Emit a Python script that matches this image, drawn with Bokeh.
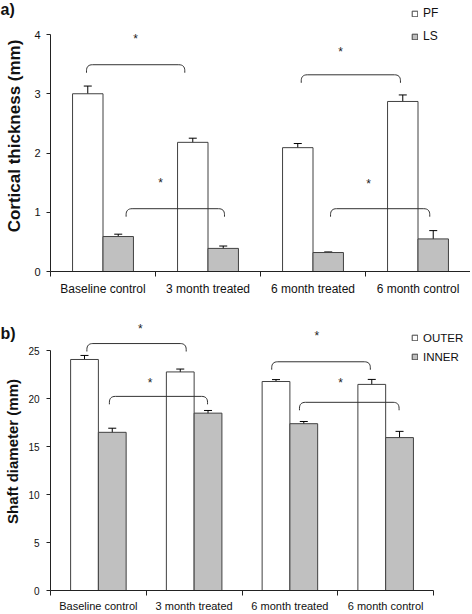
from bokeh.plotting import figure
from bokeh.models import (Range1d, FixedTicker, Legend, LegendItem,
                          ColumnDataSource, Whisker, TeeHead)
from bokeh.layouts import column
from bokeh.embed import file_html
from bokeh.resources import INLINE
from bokeh.core.properties import value

# ---------------- data ----------------
groups = ["Baseline control", "3 month treated", "6 month treated", "6 month control"]

# panel a: cortical thickness (mm)
pf_mean = [3.00, 2.18, 2.09, 2.87]
pf_err = [0.13, 0.07, 0.07, 0.11]
ls_mean = [0.59, 0.39, 0.32, 0.55]
ls_err = [0.04, 0.04, 0.01, 0.14]

# panel b: shaft diameter (mm)
outer_mean = [24.1, 22.8, 21.8, 21.5]
outer_err = [0.42, 0.30, 0.20, 0.52]
inner_mean = [16.5, 18.5, 17.4, 15.95]
inner_err = [0.43, 0.28, 0.23, 0.65]

yticks_a = [0, 1, 2, 3, 4]
yticks_b = [0, 5, 10, 15, 20, 25]

# significance brackets (x0, x1 in group units, top level in data units)
brackets_a = [(0.343, 1.279, 3.49), (0.72, 1.657, 1.06),
              (2.388, 3.333, 3.32), (2.667, 3.612, 1.06)]
stars_a = [(0.81, 3.93), (1.048, 1.49), (2.762, 3.70), (3.03, 1.48)]
brackets_b = [(0.38, 1.417, 25.76), (0.615, 1.64, 20.25),
              (2.31, 3.34, 23.86), (2.60, 3.64, 19.63)]
stars_b = [(0.9375, 27.3), (1.04, 21.6), (2.78, 26.5), (3.03, 21.6)]

FONT = "Liberation Sans"
WHITE_FILL = "white"
GRAY_FILL = "#c0c0c0"
BAR_LINE = "#404040"
BAR_W = 0.29
FIG_W = 470
B_LEFT = 50


def bracket_path(x0, x1, ytop, kx, ky, hook_px=8, r_px=6):
    rx, ry = r_px / kx, r_px / ky
    yh = ytop - hook_px / ky
    xs, ys = [x0], [yh]
    n = 8
    for (p0, c, p1) in (((x0, ytop - ry), (x0, ytop), (x0 + rx, ytop)),
                        ((x1 - rx, ytop), (x1, ytop), (x1, ytop - ry))):
        for i in range(n + 1):
            t = i / n
            xs.append((1 - t) ** 2 * p0[0] + 2 * (1 - t) * t * c[0] + t ** 2 * p1[0])
            ys.append((1 - t) ** 2 * p0[1] + 2 * (1 - t) * t * c[1] + t ** 2 * p1[1])
    xs.append(x1); ys.append(yh)
    return xs, ys


def make_panel(means1, errs1, means2, errs2, names, ylabel, yticks, ybound,
               y_end, x_end, height, border_top, border_bottom, brackets, stars,
               xtick_fs, ytick_fs, title_fs, legend_fs, panel_label, legend_xy,
               label_h, leg_spacing, title_standoff_panel, xstandoff, ystandoff,
               title_standoff):
    p = figure(width=FIG_W, height=height, output_backend="svg",
               toolbar_location=None, x_range=Range1d(0, x_end),
               y_range=Range1d(0, y_end), min_border_left=B_LEFT,
               min_border_right=0, min_border_top=border_top,
               min_border_bottom=border_bottom)
    p.xgrid.visible = False
    p.ygrid.visible = False
    p.outline_line_color = None
    p.background_fill_color = "white"

    # panel label as the plot title, pulled into the corner
    p.title.text = panel_label
    p.title.align = "left"
    p.title.offset = -B_LEFT
    p.title.standoff = title_standoff_panel
    p.title.vertical_align = "bottom"
    p.title.text_font = FONT
    p.title.text_font_size = "16px"
    p.title.text_font_style = "bold"
    p.title.text_color = "#111111"

    centers = [i + 0.5 for i in range(len(groups))]
    x1 = [c - BAR_W / 2 for c in centers]
    x2 = [c + BAR_W / 2 for c in centers]
    s1 = ColumnDataSource(dict(x=x1, top=means1,
                               lo=[m - e for m, e in zip(means1, errs1)],
                               hi=[m + e for m, e in zip(means1, errs1)]))
    s2 = ColumnDataSource(dict(x=x2, top=means2,
                               lo=[m - e for m, e in zip(means2, errs2)],
                               hi=[m + e for m, e in zip(means2, errs2)]))
    r1 = p.vbar(x="x", top="top", width=BAR_W, source=s1, fill_color=WHITE_FILL,
                line_color=BAR_LINE, line_width=1)
    r2 = p.vbar(x="x", top="top", width=BAR_W, source=s2, fill_color=GRAY_FILL,
                line_color=BAR_LINE, line_width=1)
    for s in (s1, s2):
        w = Whisker(source=s, base="x", upper="hi", lower="lo", dimension="height",
                    line_color="black", line_width=1,
                    upper_head=TeeHead(size=8, line_color="black", line_width=1),
                    lower_head=TeeHead(size=8, line_color="black", line_width=1))
        p.add_layout(w)

    frame_w = FIG_W - B_LEFT
    frame_h = height - border_top - border_bottom
    kx = frame_w / x_end
    ky = frame_h / y_end
    bx, by = [], []
    for (a, b, yt) in brackets:
        xs, ys = bracket_path(a, b, yt, kx, ky)
        bx.append(xs); by.append(ys)
    p.multi_line(bx, by, line_color="#333333", line_width=1)
    p.text(x=[s[0] for s in stars], y=[s[1] for s in stars], text=["*"] * len(stars),
           text_font=value(FONT), text_font_size="12px", text_align="center",
           text_baseline="middle", text_color="#222222")

    xa = p.xaxis[0]
    xa.ticker = FixedTicker(ticks=centers, minor_ticks=list(range(len(groups) + 1)))
    xa.major_label_overrides = {c: g for c, g in zip(centers, groups)}
    xa.bounds = (0, len(groups))
    xa.major_tick_out = 0
    xa.major_tick_in = 0
    xa.minor_tick_out = 5
    xa.minor_tick_in = 0
    xa.major_label_standoff = xstandoff
    xa.major_label_text_font = FONT
    xa.major_label_text_font_size = xtick_fs
    xa.major_label_text_color = "#111111"
    xa.axis_line_color = "#222222"
    xa.minor_tick_line_color = "#222222"

    ya = p.yaxis[0]
    ya.ticker = FixedTicker(ticks=yticks, minor_ticks=[])
    ya.bounds = (0, ybound)
    ya.major_tick_out = 4
    ya.major_tick_in = 0
    ya.major_label_standoff = ystandoff
    ya.major_label_text_font = FONT
    ya.major_label_text_font_size = ytick_fs
    ya.major_label_text_color = "#111111"
    ya.axis_line_color = "#222222"
    ya.major_tick_line_color = "#222222"
    ya.axis_label = ylabel
    ya.axis_label_text_font = FONT
    ya.axis_label_text_font_style = "bold"
    ya.axis_label_text_font_size = title_fs
    ya.axis_label_text_color = "#111111"
    ya.axis_label_standoff = title_standoff

    legend = Legend(items=[LegendItem(label=names[0], renderers=[r1]),
                           LegendItem(label=names[1], renderers=[r2])],
                    location=legend_xy, orientation="vertical",
                    label_text_font=FONT, label_text_font_size=legend_fs,
                    label_text_color="#111111",
                    glyph_width=7, glyph_height=7, label_standoff=5,
                    label_height=label_h, spacing=leg_spacing, padding=0, margin=0,
                    border_line_alpha=0, background_fill_alpha=0)
    p.add_layout(legend)
    return p


pa = make_panel(pf_mean, pf_err, ls_mean, ls_err, ["PF", "LS"],
                "Cortical thickness (mm)", yticks_a, 4, 4.574, 4.0, 300, 0, 29,
                brackets_a, stars_a, "12px", "11px", "17px", "12px", "a)", (361, 228),
                14, 9, -34, 5, 6, 7)
pb = make_panel(outer_mean, outer_err, inner_mean, inner_err, ["OUTER", "INNER"],
                "Shaft diameter (mm)", yticks_b, 25, 29.0, 4.386, 314, 12, 22,
                brackets_b, stars_b, "11px", "10px", "15px", "11.5px", "b)", (361, 227),
                13, 6, -58, 4, 7, 4)

layout = column(pa, pb)
open("out.html", "w").write(file_html(layout, INLINE))
